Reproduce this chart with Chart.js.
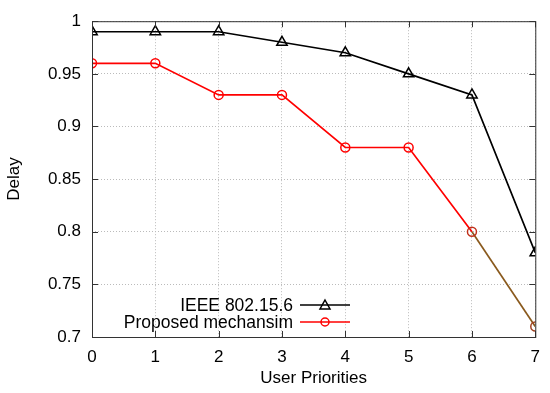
<!DOCTYPE html>
<html>
<head>
<meta charset="utf-8">
<script src="https://cdn.jsdelivr.net/npm/chart.js@4.4.1/dist/chart.umd.min.js"></script>
<style>
  html, body { margin: 0; padding: 0; background: #fff; }
  #wrap { width: 550px; height: 393px; }
</style>
</head>
<body>
<div id="wrap"><canvas id="chart" width="550" height="393"></canvas></div>
<script>
// data
const priorities = [0, 1, 2, 3, 4, 5, 6, 7];
const ieeeDelay = [0.99, 0.99, 0.99, 0.98, 0.97, 0.95, 0.93, 0.78];
const proposedDelay = [0.96, 0.96, 0.93, 0.93, 0.88, 0.88, 0.80, 0.71];
const yTicks = [0.7, 0.75, 0.8, 0.85, 0.9, 0.95, 1];
const seriesNames = ['IEEE 802.15.6', 'Proposed mechansim'];

const FONT = '"Liberation Sans", Arial, sans-serif';

function toPoints(vals) {
  return vals.map((v, i) => ({ x: priorities[i], y: v }));
}

// inward tick marks on all four sides, gnuplot style
const innerTicks = {
  id: 'innerTicks',
  afterDatasetsDraw(chart) {
    const { ctx, chartArea: a, scales: { x, y } } = chart;
    ctx.save();
    ctx.strokeStyle = '#333';
    ctx.lineWidth = 1;
    ctx.beginPath();
    priorities.forEach(p => {
      const px = Math.round(x.getPixelForValue(p)) + 0.5;
      ctx.moveTo(px, a.bottom); ctx.lineTo(px, a.bottom - 6);
      ctx.moveTo(px, a.top); ctx.lineTo(px, a.top + 6);
    });
    yTicks.forEach(t => {
      const py = Math.round(y.getPixelForValue(t)) + 0.5;
      ctx.moveTo(a.left, py); ctx.lineTo(a.left + 6, py);
      ctx.moveTo(a.right, py); ctx.lineTo(a.right - 6, py);
    });
    ctx.stroke();
    ctx.strokeRect(a.left + 0.5, a.top + 0.5, a.right - a.left, a.bottom - a.top);
    ctx.restore();
  }
};

// legend drawn like gnuplot: text right-aligned, sample on the right
const keyBox = {
  id: 'keyBox',
  afterDraw(chart) {
    const { ctx } = chart;
    ctx.save();
    ctx.font = '17.5px ' + FONT;
    ctx.textAlign = 'right';
    ctx.textBaseline = 'middle';
    chart.data.datasets.forEach((ds, i) => {
      const yy = 305 + i * 17;
      ctx.fillStyle = '#000';
      ctx.fillText(ds.label, 293, yy + 1);
      ctx.strokeStyle = ds.borderColor;
      ctx.lineWidth = 1.5;
      ctx.beginPath();
      ctx.moveTo(300, yy); ctx.lineTo(350, yy);
      ctx.stroke();
      ctx.beginPath();
      if (ds.pointStyle === 'triangle') {
        ctx.moveTo(325, yy - 5); ctx.lineTo(330, yy + 4); ctx.lineTo(320, yy + 4); ctx.closePath();
      } else {
        ctx.arc(325, yy, 4, 0, Math.PI * 2);
      }
      ctx.stroke();
    });
    ctx.restore();
  }
};

new Chart(document.getElementById('chart'), {
  type: 'line',
  data: {
    datasets: [
      {
        label: seriesNames[0],
        data: toPoints(ieeeDelay),
        borderColor: '#000',
        borderWidth: 1.7,
        pointStyle: 'triangle',
        pointRadius: 6,
        pointBorderWidth: 1.5,
        pointBackgroundColor: 'rgba(0,0,0,0)',
        pointBorderColor: '#000',
        tension: 0
      },
      {
        label: seriesNames[1],
        data: toPoints(proposedDelay),
        borderColor: '#ff0000',
        borderWidth: 1.7,
        pointStyle: 'circle',
        pointRadius: 4.5,
        pointBorderWidth: 1.5,
        pointBackgroundColor: 'rgba(0,0,0,0)',
        pointBorderColor: ['#f00', '#f00', '#f00', '#f00', '#f00', '#f00', '#c0301a', '#a04020'],
        segment: {
          borderColor: c => c.p0DataIndex === 6 ? '#8a5a1e' : undefined
        },
        tension: 0
      }
    ]
  },
  options: {
    responsive: false,
    animation: false,
    layout: { padding: { top: 12, right: 12, left: 0, bottom: 0 } },
    plugins: {
      legend: { display: false },
      tooltip: { enabled: false }
    },
    scales: {
      x: {
        type: 'linear',
        min: 0,
        max: 7,
        afterBuildTicks: s => { s.ticks = priorities.map(v => ({ value: v })); },
        afterFit: s => { s.height = 56; },
        grid: { color: '#bbb', drawTicks: false },
        border: { display: false, dash: [1, 2] },
        ticks: { color: '#000', font: { family: FONT, size: 17 }, padding: 10 },
        title: { display: true, text: 'User Priorities', color: '#000', font: { family: FONT, size: 17 }, padding: { top: 7 } }
      },
      y: {
        min: 0.7,
        max: 1,
        afterBuildTicks: s => { s.ticks = yTicks.map(v => ({ value: v })); },
        afterFit: s => { s.width = 92; },
        grid: { color: '#bbb', drawTicks: false },
        border: { display: false, dash: [1, 2] },
        ticks: { color: '#000', font: { family: FONT, size: 17 }, padding: 11,
                 callback: v => String(v) },
        title: { display: true, text: 'Delay', color: '#000', font: { family: FONT, size: 17 }, padding: { bottom: 2 } }
      }
    }
  },
  plugins: [innerTicks, keyBox]
});
</script>
</body>
</html>
